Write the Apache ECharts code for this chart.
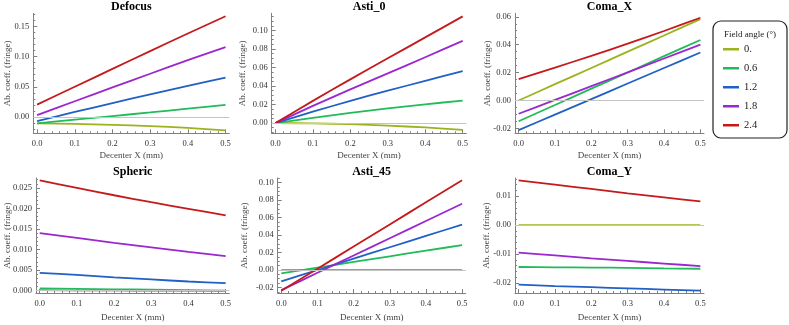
<!DOCTYPE html>
<html><head><meta charset="utf-8">
<script src="https://cdn.jsdelivr.net/npm/echarts@6/dist/echarts.min.js"></script>
<style>html,body{margin:0;padding:0;background:#fff}#c{width:789px;height:325px}</style>
</head><body><div id="c"></div>
<script>
// ---- data (series order follows fieldAngles) ----
const xValues = [0, 0.1, 0.2, 0.3, 0.4, 0.5];
const fieldAngles = ['0.', '0.6', '1.2', '1.8', '2.4'];

const defocus = [
  [-0.0105, -0.0115, -0.0130, -0.0150, -0.0180, -0.0222],
  [-0.0105, -0.0045, 0.0015, 0.0075, 0.0138, 0.0200],
  [-0.0067, 0.0083, 0.0230, 0.0375, 0.0515, 0.0650],
  [0.0030, 0.0260, 0.0490, 0.0715, 0.0940, 0.1157],
  [0.0205, 0.0500, 0.0795, 0.1090, 0.1380, 0.1667]
];
const asti0 = [
  [0, -0.0003, -0.0012, -0.0027, -0.0047, -0.0072],
  [0, 0.0057, 0.0110, 0.0159, 0.0203, 0.0243],
  [0, 0.0123, 0.0240, 0.0350, 0.0456, 0.0562],
  [0, 0.0186, 0.0364, 0.0536, 0.0711, 0.0888],
  [0, 0.0240, 0.0472, 0.0699, 0.0925, 0.1152]
];
const comaX = [
  [0, 0.0117, 0.0233, 0.0350, 0.0466, 0.0583],
  [-0.0149, -0.0032, 0.0085, 0.0201, 0.0318, 0.0434],
  [-0.0212, -0.0101, 0.0010, 0.0122, 0.0233, 0.0344],
  [-0.0095, 0.0004, 0.0103, 0.0202, 0.0301, 0.0400],
  [0.0154, 0.0236, 0.0320, 0.0407, 0.0498, 0.0593]
];
const spheric = [
  [0.0001, 0.0000, 0.0000, -0.0001, -0.0001, -0.0001],
  [0.0005, 0.0004, 0.0003, 0.0002, 0.0001, 0.0000],
  [0.0043, 0.0038, 0.0032, 0.0027, 0.0022, 0.0018],
  [0.0140, 0.0128, 0.0116, 0.0105, 0.0094, 0.0084],
  [0.0268, 0.0250, 0.0232, 0.0215, 0.0199, 0.0183]
];
const asti45 = [
  [0, 0, 0, 0, 0, 0],
  [-0.0038, 0.0027, 0.0092, 0.0157, 0.0221, 0.0285],
  [-0.0131, 0.0000, 0.0130, 0.0260, 0.0390, 0.0519],
  [-0.0230, -0.0032, 0.0166, 0.0363, 0.0561, 0.0758],
  [-0.0238, 0.0015, 0.0268, 0.0521, 0.0774, 0.1027]
];
const comaY = [
  [0, 0, 0, 0, 0, 0],
  [-0.0145, -0.0146, -0.0147, -0.0148, -0.0150, -0.0151],
  [-0.0206, -0.0211, -0.0215, -0.0219, -0.0223, -0.0227],
  [-0.0095, -0.0105, -0.0115, -0.0124, -0.0133, -0.0142],
  [0.0155, 0.0140, 0.0125, 0.0110, 0.0096, 0.0082]
];

// ---- tick labels ----
const xTicks = [0, 0.1, 0.2, 0.3, 0.4, 0.5];
const defocusTicks = [0, 0.05, 0.10, 0.15];
const asti0Ticks = [0, 0.02, 0.04, 0.06, 0.08, 0.10];
const comaXTicks = [-0.02, 0, 0.02, 0.04, 0.06];
const sphericTicks = [0, 0.005, 0.010, 0.015, 0.020, 0.025];
const asti45Ticks = [-0.02, 0, 0.02, 0.04, 0.06, 0.08, 0.10];
const comaYTicks = [-0.02, -0.01, 0, 0.01];

// ---- layout / style ----
const colors = ['#9db31e', '#22bb5a', '#2160c4', '#9b27cf', '#c41a1c'];
const FONT = '"Liberation Serif", "DejaVu Serif", serif';
const AXIS_C = '#808080';
const TOP1 = 13.3, H1 = 120, TOP2 = 178, H2 = 115;

const panels = [
  {title: 'Defocus', data: defocus, ticks: defocusTicks, yMin: -0.027, yMax: 0.1715, minor: 0.01, dec: 2, rect: [33.3, TOP1, 196, H1], yName: 8, xName: 22},
  {title: 'Asti_0', data: asti0, ticks: asti0Ticks, yMin: -0.011, yMax: 0.1185, minor: 0.005, dec: 2, rect: [271.7, TOP1, 194.7, H1], yName: 243, xName: 22},
  {title: 'Coma_X', data: comaX, ticks: comaXTicks, yMin: -0.0235, yMax: 0.0625, minor: 0.005, dec: 2, rect: [515, TOP1, 189, H1], yName: 488, xName: 22},
  {title: 'Spheric', data: spheric, ticks: sphericTicks, yMin: -0.0006, yMax: 0.0274, minor: 0.001, dec: 3, rect: [36, TOP2, 193.4, H2], yName: 8, xName: 25},
  {title: 'Asti_45', data: asti45, ticks: asti45Ticks, yMin: -0.0263, yMax: 0.1052, minor: 0.005, dec: 2, rect: [277.7, TOP2, 188, H2], yName: 245, xName: 25},
  {title: 'Coma_Y', data: comaY, ticks: comaYTicks, yMin: -0.0235, yMax: 0.0163, minor: 0.002, dec: 2, rect: [515, TOP2, 189, H2], yName: 487, xName: 25}
];

function minorTicks(lo, hi, step, majors) {
  const out = [];
  const start = Math.ceil(lo / step - 1e-9);
  const end = Math.floor(hi / step + 1e-9);
  for (let k = start; k <= end; k++) {
    const v = +(k * step).toFixed(6);
    if (!majors.some(m => Math.abs(m - v) < step / 10)) out.push(v);
  }
  return out;
}

const grid = [], xAxis = [], yAxis = [], series = [], graphic = [];
const X_MIN = -0.01, X_MAX = 0.51;
const xMinor = minorTicks(0, 0.5, 0.02, xTicks);

panels.forEach((p, i) => {
  const [l, t, w, h] = p.rect;
  grid.push({left: l, top: t, width: w, height: h, containLabel: false});
  const tickStyle = {color: AXIS_C, width: 1};
  xAxis.push({
    gridIndex: i, type: 'value', min: X_MIN, max: X_MAX, position: 'bottom',
    axisLine: {show: true, onZero: false, lineStyle: {color: AXIS_C, width: 1}},
    axisTick: {show: true, inside: true, length: 4, customValues: xTicks, lineStyle: tickStyle},
    axisLabel: {show: true, customValues: xTicks, formatter: v => v.toFixed(1), margin: 6,
      hideOverlap: false, showMinLabel: true, showMaxLabel: true,
      fontFamily: FONT, fontSize: 8.5, color: '#333'},
    splitLine: {show: false}
  });
  xAxis.push({
    gridIndex: i, type: 'value', min: X_MIN, max: X_MAX, position: 'bottom',
    axisLine: {show: false, onZero: false},
    axisTick: {show: true, inside: true, length: 2, customValues: xMinor, lineStyle: tickStyle},
    axisLabel: {show: false}, splitLine: {show: false}
  });
  yAxis.push({
    gridIndex: i, type: 'value', min: p.yMin, max: p.yMax, position: 'left',
    axisLine: {show: true, onZero: false, lineStyle: {color: AXIS_C, width: 1}},
    axisTick: {show: true, inside: true, length: 4, customValues: p.ticks, lineStyle: tickStyle},
    axisLabel: {show: true, customValues: p.ticks, formatter: v => v.toFixed(p.dec), margin: 4,
      hideOverlap: false, showMinLabel: true, showMaxLabel: true,
      fontFamily: FONT, fontSize: 8.5, color: '#333'},
    splitLine: {show: false}
  });
  yAxis.push({
    gridIndex: i, type: 'value', min: p.yMin, max: p.yMax, position: 'left',
    axisLine: {show: false, onZero: false},
    axisTick: {show: true, inside: true, length: 2, customValues: minorTicks(p.yMin, p.yMax, p.minor, p.ticks), lineStyle: tickStyle},
    axisLabel: {show: false}, splitLine: {show: false}
  });
  // zero reference line
  series.push({
    type: 'line', xAxisIndex: 2 * i, yAxisIndex: 2 * i, data: [[0, 0]], showSymbol: false,
    lineStyle: {opacity: 0}, silent: true, z: 1, tooltip: {show: false},
    markLine: {silent: true, symbol: 'none', label: {show: false}, animation: false,
      lineStyle: {color: '#c4c4c4', width: 1, type: 'solid'}, data: [{yAxis: 0}]}
  });
  p.data.forEach((vals, s) => {
    series.push({
      name: fieldAngles[s], type: 'line', xAxisIndex: 2 * i, yAxisIndex: 2 * i,
      data: xValues.map((x, k) => [x, vals[k]]), showSymbol: false, smooth: 0.2,
      lineStyle: {color: colors[s], width: 1.8}, itemStyle: {color: colors[s]},
      z: 3, animation: false, clip: true
    });
  });
  graphic.push({
    type: 'text', x: l + w / 2, y: t - 6.5, silent: true,
    style: {text: p.title, fill: '#000', font: 'bold 12px ' + FONT, textAlign: 'center', textVerticalAlign: 'middle'}
  });
  graphic.push({
    type: 'text', x: l + w / 2, y: t + h + p.xName, silent: true,
    style: {text: 'Decenter X (mm)', fill: '#444', font: '9px ' + FONT, textAlign: 'center', textVerticalAlign: 'middle'}
  });
  graphic.push({
    type: 'text', x: p.yName, y: t + h / 2, rotation: Math.PI / 2, silent: true,
    style: {text: 'Ab. coeff. (fringe)', fill: '#444', font: '9px ' + FONT, textAlign: 'center', textVerticalAlign: 'middle'}
  });
});

// legend box and title
graphic.push({
  type: 'rect', shape: {x: 713, y: 21, width: 74, height: 117, r: 8},
  style: {fill: '#fff', stroke: '#222', lineWidth: 1.2}, z: 0, silent: true
});
graphic.push({
  type: 'text', x: 750, y: 34.5, silent: true, z: 10,
  style: {text: 'Field angle (°)', fill: '#222', font: '9px ' + FONT, textAlign: 'center', textVerticalAlign: 'middle'}
});

const chart = echarts.init(document.getElementById('c'), null, {renderer: 'canvas'});
chart.setOption({
  animation: false,
  backgroundColor: '#fff',
  grid, xAxis, yAxis, series, graphic,
  legend: {
    data: fieldAngles, orient: 'vertical', left: 723, top: 43, padding: 0,
    itemWidth: 16, itemHeight: 2.5, itemGap: 6.5, itemTextGap: 6, icon: 'rect',
    textStyle: {fontFamily: FONT, fontSize: 10.5, color: '#222', lineHeight: 12.5},
    selectedMode: false, z: 10
  }
});
</script>
</body></html>
